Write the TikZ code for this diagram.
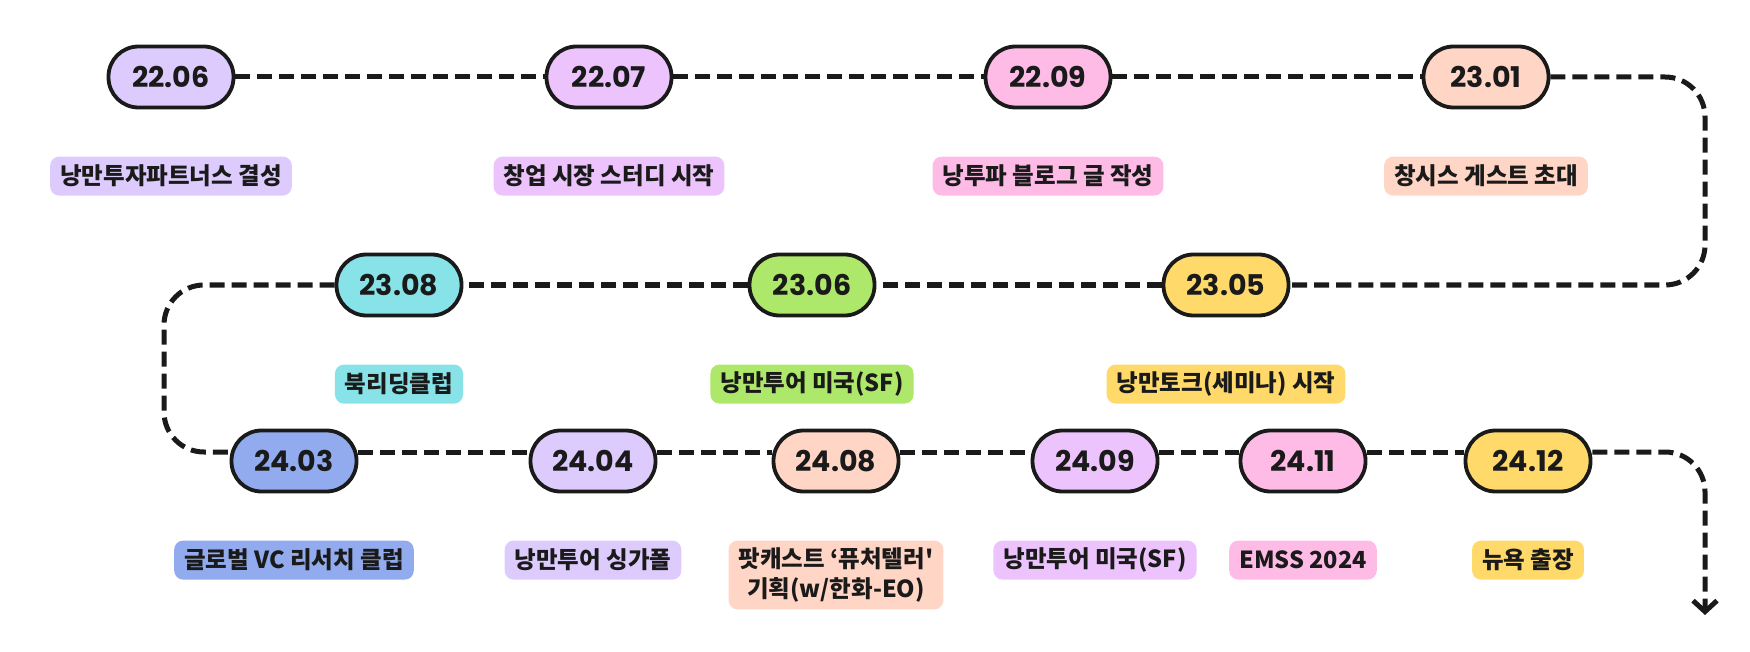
\documentclass[tikz,border=0pt]{standalone}
\usepackage{fontspec}
\newfontfamily\krfont{Noto Sans CJK KR}
\newfontfamily\datefont{Poppins}
\usetikzlibrary{arrows.meta,positioning}
\definecolor{ink}{HTML}{1A1A1A}
\definecolor{cLav}{HTML}{DDCBFD}
\definecolor{cViolet}{HTML}{ECC3FC}
\definecolor{cPink}{HTML}{FDBBE6}
\definecolor{cPeach}{HTML}{FFD5C5}
\definecolor{cCyan}{HTML}{88E3E8}
\definecolor{cGreen}{HTML}{AEE86B}
\definecolor{cYellow}{HTML}{FFDA6B}
\definecolor{cBlue}{HTML}{91ABEE}

\begin{document}
\begin{tikzpicture}[
    x=1pt, y=1pt,
    node distance=47pt,
    pill/.style={draw=ink, line width=3.8pt, rounded corners=30pt, minimum width=125pt, minimum height=61pt, inner sep=0pt, text=ink, font=\datefont\bfseries\fontsize{28.5}{30}\selectfont},
    note/.style={rounded corners=9pt, inner xsep=10pt, inner ysep=7pt, minimum height=39pt, align=center, text=ink, font=\krfont\bfseries\fontsize{23.5}{30}\selectfont},
    link/.style={draw=ink, line width=5pt, dash pattern=on 15pt off 7pt}
]
\useasboundingbox (0,0) rectangle (1750,-652);

\node[pill, fill=cLav] (d2206) at (171,-77) {22.06};
\node[pill, fill=cViolet] (d2207) at (609,-77) {22.07};
\node[pill, fill=cPink] (d2209) at (1048,-77) {22.09};
\node[pill, fill=cPeach] (d2301) at (1486,-77) {23.01};
\node[pill, fill=cYellow] (d2305) at (1226,-285) {23.05};
\node[pill, fill=cGreen] (d2306) at (812,-285) {23.06};
\node[pill, fill=cCyan] (d2308) at (399,-285) {23.08};
\node[pill, fill=cBlue] (d2403) at (294,-461) {24.03};
\node[pill, fill=cLav] (d2404) at (593,-461) {24.04};
\node[pill, fill=cPeach] (d2408) at (836,-461) {24.08};
\node[pill, fill=cViolet] (d2409) at (1095,-461) {24.09};
\node[pill, fill=cPink] (d2411) at (1303,-461) {24.11};
\node[pill, fill=cYellow] (d2412) at (1528,-461) {24.12};

\node[note, fill=cLav, below=of d2206] (n2206) {낭만투자파트너스 결성};
\node[note, fill=cViolet, below=of d2207] (n2207) {창업 시장 스터디 시작};
\node[note, fill=cPink, below=of d2209] (n2209) {낭투파 블로그 글 작성};
\node[note, fill=cPeach, below=of d2301] (n2301) {창시스 게스트 초대};
\node[note, fill=cYellow, below=of d2305] (n2305) {낭만토크(세미나) 시작};
\node[note, fill=cGreen, below=of d2306] (n2306) {낭만투어 미국(SF)};
\node[note, fill=cCyan, below=of d2308] (n2308) {북리딩클럽};
\node[note, fill=cBlue, below=of d2403] (n2403) {글로벌 VC 리서치 클럽};
\node[note, fill=cLav, below=of d2404] (n2404) {낭만투어 싱가폴};
\node[note, fill=cPeach, below=of d2408] (n2408) {팟캐스트 ‘퓨처텔러'\\기획(w/한화-EO)};
\node[note, fill=cViolet, below=of d2409] (n2409) {낭만투어 미국(SF)};
\node[note, fill=cPink, below=of d2411] (n2411) {EMSS 2024};
\node[note, fill=cYellow, below=of d2412] (n2412) {뉴욕 출장};

\coordinate (turnR) at (1705,-180);
\coordinate (turnL) at (164,-370);
\coordinate (tail) at (1705,-615);

\draw[link] (d2206) -- (d2207);
\draw[link] (d2207) -- (d2209);
\draw[link] (d2209) -- (d2301);
\draw[link, rounded corners=40pt] (d2301.east) -| (turnR) |- (d2305.east);
\draw[link] (d2305) -- (d2306);
\draw[link] (d2306) -- (d2308);
\draw[link, rounded corners=40pt] (d2308.west) -| (turnL) |- ([yshift=9pt]d2403.west);
\draw[link] ([yshift=9pt]d2403.east) -- ([yshift=9pt]d2404.west);
\draw[link] ([yshift=9pt]d2404.east) -- ([yshift=9pt]d2408.west);
\draw[link] ([yshift=9pt]d2408.east) -- ([yshift=9pt]d2409.west);
\draw[link] ([yshift=9pt]d2409.east) -- ([yshift=9pt]d2411.west);
\draw[link] ([yshift=9pt]d2411.east) -- ([yshift=9pt]d2412.west);
\draw[link, rounded corners=40pt, -{Straight Barb[length=11pt,width=24pt]}] ([yshift=9pt]d2412.east) -| (tail);
\end{tikzpicture}
\end{document}
